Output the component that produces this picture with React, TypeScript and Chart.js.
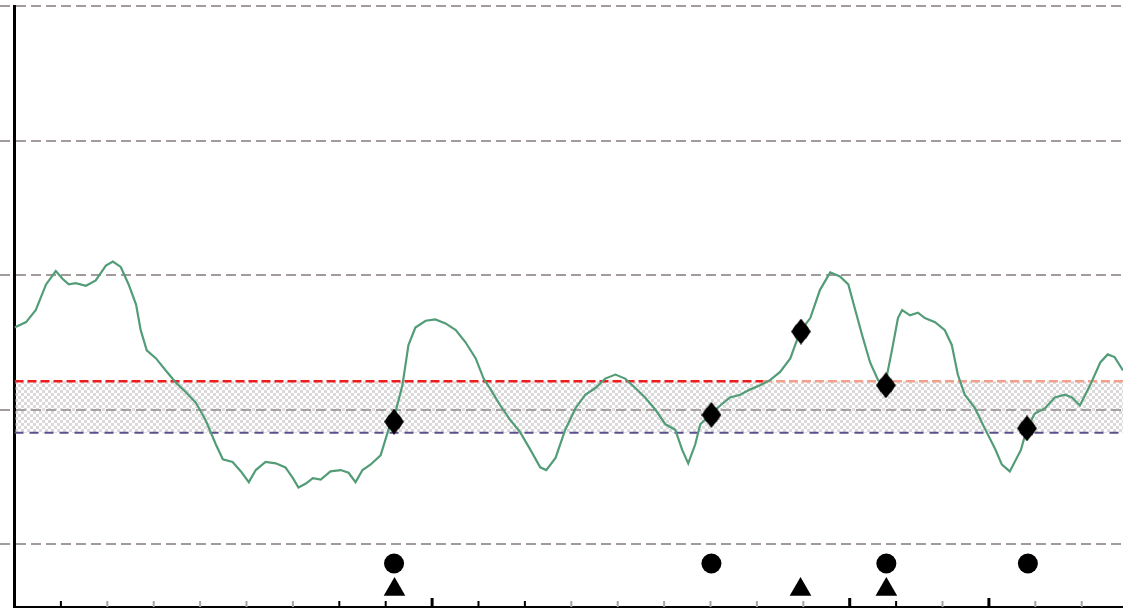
import React, { useEffect, useRef } from "react";
import { Chart, registerables } from "chart.js";

Chart.register(...registerables);

// ---- data ----
const xMin = 0;
const xMax = 238.9;
const yMin = -4.68;
const yMax = 40;

const yGridValues = [0, 10, 20, 30, 40];
const xTickValues = [10, 20, 30, 40, 50, 60, 70, 80, 90, 100, 110, 120, 130, 140, 150, 160, 170, 180, 190, 200, 210, 220, 230];
const xMajorTicks = [90, 180, 210];
const xDarkTicks = [10, 70, 80, 100, 110, 190];

const seriesX = [
  0, 2.5, 4.6, 6.8, 8.9, 10.4, 11.7, 13.2, 15.4, 17.5, 19.7, 21.2, 22.9, 24.6, 26.2, 27.2, 28.5, 30.5, 32.6, 34.8,
  36.9, 39.1, 41.2, 43.4, 44.9, 47.0, 48.8, 50.5, 52.0, 54.1, 56.3, 58.4, 60.0, 61.2, 62.8, 64.3, 66.0, 68.1, 70.3, 72.0,
  73.5, 75.0, 76.7, 78.9, 80.6, 82.1, 83.6, 84.9, 86.4, 88.6, 90.7, 92.9, 95.1, 97.2, 99.4, 101.1, 102.6, 104.7, 106.9, 109.0,
  111.2, 113.3, 114.6, 116.6, 118.7, 120.9, 123.0, 125.2, 127.3, 129.5, 131.6, 133.8, 135.9, 138.1, 140.3, 142.4, 143.9, 145.2, 146.7, 147.8,
  149.9, 152.1, 154.2, 156.4, 158.6, 160.7, 162.9, 165.0, 167.2, 169.3, 171.5, 173.6, 175.8, 177.9, 179.7, 181.2, 182.7, 184.4, 186.1, 187.6,
  189.1, 190.4, 191.3, 193.0, 194.7, 196.2, 198.4, 200.5, 202.0, 203.3, 204.8, 207.0, 209.1, 211.3, 212.8, 214.5, 216.9, 218.2, 219.9, 222.1,
  224.2, 226.4, 227.9, 229.6, 231.8, 234.0, 235.6, 237.1, 238.9,
];
const seriesY = [
  16.1, 16.5, 17.4, 19.3, 20.3, 19.7, 19.3, 19.4, 19.2, 19.6, 20.7, 21.0, 20.6, 19.3, 17.8, 15.9, 14.4, 13.8, 12.9, 12.0,
  11.3, 10.5, 9.2, 7.4, 6.3, 6.1, 5.4, 4.6, 5.5, 6.1, 6.0, 5.7, 4.9, 4.2, 4.5, 4.9, 4.8, 5.4, 5.5, 5.3,
  4.6, 5.5, 5.9, 6.6, 8.5, 9.8, 11.8, 14.8, 16.1, 16.6, 16.7, 16.4, 15.9, 15.0, 13.8, 12.3, 11.5, 10.3, 9.2, 8.3,
  7.0, 5.7, 5.5, 6.4, 8.5, 10.1, 11.1, 11.6, 12.3, 12.6, 12.3, 11.6, 10.9, 10.0, 8.9, 8.5, 7.0, 6.0, 7.4, 8.9,
  9.6, 10.3, 10.9, 11.1, 11.5, 11.8, 12.2, 12.8, 13.8, 15.8, 16.8, 18.9, 20.2, 19.9, 19.3, 17.4, 15.5, 13.5, 12.2, 11.8,
  14.4, 16.8, 17.4, 17.0, 17.2, 16.8, 16.5, 15.9, 14.8, 12.6, 11.1, 10.1, 8.6, 7.1, 5.9, 5.4, 7.0, 8.6, 9.7, 10.1,
  10.9, 11.1, 10.9, 10.3, 11.8, 13.5, 14.1, 13.9, 12.9,
];

const upperLimit = 12.1;
const lowerLimit = 8.28;
const limitChangeX = 161.3;

const diamondX = [81.8, 150.2, 169.5, 187.8, 218.2];
const diamondY = [9.1, 9.6, 15.8, 11.8, 8.6];
const circleX = [81.8, 150.2, 187.9, 218.4];
const circleLevel = -1.45;
const triangleX = [81.9, 169.4, 187.9];
const triangleLevel = -3.38;

// ---- helpers ----
function makeChecker(): CanvasPattern | string {
  const c = document.createElement("canvas");
  c.width = 6;
  c.height = 6;
  const g = c.getContext("2d");
  if (!g) return "rgba(200,195,195,0.45)";
  g.fillStyle = "rgba(180,175,175,0.48)";
  g.fillRect(0, 0, 3, 3);
  g.fillRect(3, 3, 3, 3);
  const p = g.createPattern(c, "repeat");
  return p || "rgba(200,195,195,0.45)";
}

function makeDiamond(): HTMLCanvasElement {
  const c = document.createElement("canvas");
  const w = 20;
  const h = 26;
  c.width = w;
  c.height = h;
  const g = c.getContext("2d");
  if (g) {
    g.fillStyle = "#000000";
    g.beginPath();
    g.moveTo(w / 2, 0);
    g.lineTo(w, h / 2);
    g.lineTo(w / 2, h);
    g.lineTo(0, h / 2);
    g.closePath();
    g.fill();
    g.beginPath();
    g.ellipse(w / 2, h / 2, w * 0.4, h * 0.34, 0, 0, Math.PI * 2);
    g.fill();
  }
  return c;
}

const innerTicksPlugin = {
  id: "innerTicks",
  afterDraw(chart: any) {
    const xs = chart.scales.x;
    const area = chart.chartArea;
    const ctx = chart.ctx as CanvasRenderingContext2D;
    ctx.save();
    xTickValues.forEach((v) => {
      const px = xs.getPixelForValue(v);
      const major = xMajorTicks.includes(v);
      const dark = major || xDarkTicks.includes(v);
      ctx.strokeStyle = dark ? "#000000" : "#aaa3a3";
      ctx.lineWidth = major ? 3 : 2;
      const len = major ? 9 : 6;
      ctx.beginPath();
      ctx.moveTo(px, area.bottom);
      ctx.lineTo(px, area.bottom - len);
      ctx.stroke();
    });
    ctx.restore();
  },
};

export default function App() {
  const ref = useRef<HTMLCanvasElement | null>(null);

  useEffect(() => {
    if (!ref.current) return;
    const checker = makeChecker();
    const diamond = makeDiamond();

    const chart = new Chart(ref.current, {
      type: "line",
      data: {
        datasets: [
          {
            label: "markers-triangle",
            data: triangleX.map((x) => ({ x, y: triangleLevel })),
            showLine: false,
            pointStyle: "triangle",
            pointRadius: 12.5,
            pointBackgroundColor: "#000000",
            pointBorderColor: "#000000",
            pointBorderWidth: 0,
            order: 0,
          },
          {
            label: "markers-circle",
            data: circleX.map((x) => ({ x, y: circleLevel })),
            showLine: false,
            pointStyle: "circle",
            pointRadius: 10,
            pointBackgroundColor: "#000000",
            pointBorderColor: "#000000",
            pointBorderWidth: 0,
            order: 1,
          },
          {
            label: "markers-diamond",
            data: diamondX.map((x, i) => ({ x, y: diamondY[i] })),
            showLine: false,
            pointStyle: diamond as any,
            pointRadius: 12,
            order: 2,
          },
          {
            label: "series",
            data: seriesX.map((x, i) => ({ x, y: seriesY[i] })),
            borderColor: "#539c78",
            borderWidth: 2.2,
            pointRadius: 0,
            tension: 0,
            fill: false,
            order: 3,
          },
          {
            label: "upper",
            data: [
              { x: xMin, y: upperLimit },
              { x: limitChangeX, y: upperLimit },
            ],
            borderColor: "#ee1c1c",
            borderWidth: 2.5,
            borderDash: [9, 4],
            pointRadius: 0,
            fill: false,
            order: 4,
          },
          {
            label: "upper-later",
            data: [
              { x: limitChangeX, y: upperLimit },
              { x: xMax, y: upperLimit },
            ],
            borderColor: "#f2a08e",
            borderWidth: 2.5,
            borderDash: [9, 4],
            pointRadius: 0,
            fill: false,
            order: 5,
          },
          {
            label: "lower",
            data: [
              { x: xMin, y: lowerLimit },
              { x: xMax, y: lowerLimit },
            ],
            borderColor: "#5b4f8c",
            borderWidth: 2,
            borderDash: [9, 6],
            pointRadius: 0,
            fill: { value: upperLimit },
            backgroundColor: checker as any,
            order: 6,
          },
        ],
      },
      options: {
        animation: false,
        responsive: true,
        maintainAspectRatio: false,
        layout: { autoPadding: false, padding: { top: 6, right: 0, bottom: 1, left: 0 } } as any,
        plugins: {
          legend: { display: false },
          tooltip: { enabled: false },
          title: { display: false },
        },
        scales: {
          x: {
            type: "linear",
            min: xMin,
            max: xMax,
            ticks: { display: false },
            grid: { display: false, drawTicks: false },
            border: { display: true, color: "#000000", width: 2 },
          },
          y: {
            type: "linear",
            min: yMin,
            max: yMax,
            afterBuildTicks: (scale: any) => {
              scale.ticks = yGridValues.map((v) => ({ value: v }));
            },
            ticks: { display: false },
            grid: {
              display: true,
              color: "#a39a9a",
              lineWidth: 2,
              drawTicks: true,
              tickLength: 14.5,
              tickColor: "#a39a9a",
              tickWidth: 2,
              tickBorderDash: [10, 5],
            } as any,
            border: { display: true, color: "#000000", width: 3, dash: [10, 5] },
          },
        },
      },
      plugins: [innerTicksPlugin],
    });

    return () => chart.destroy();
  }, []);

  return (
    <div style={{ position: "fixed", left: 0, top: 0, width: "1123px", height: "608px", background: "#ffffff" }}>
      <canvas ref={ref} />
    </div>
  );
}
